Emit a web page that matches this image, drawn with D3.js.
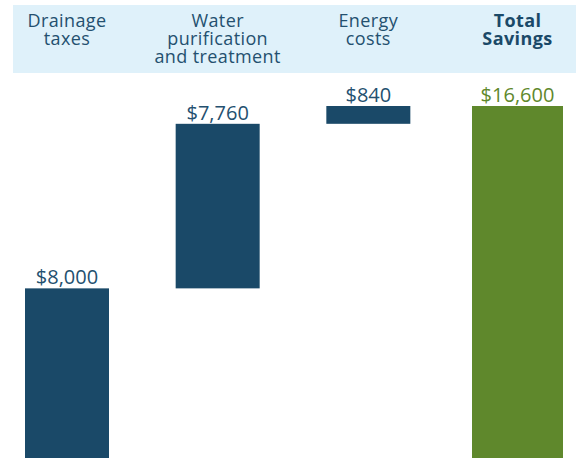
<!DOCTYPE html>
<html>
<head>
<meta charset="utf-8">
<script src="https://cdn.jsdelivr.net/npm/d3@7"></script>
<style>
  body { margin: 0; background: #fff; }
  svg { display: block; }
</style>
</head>
<body>
<div id="chart"></div>
<script>
// data
var categories = ['Drainage taxes', 'Water purification and treatment', 'Energy costs', 'Total Savings']
var headerLines = [['Drainage', 'taxes'], ['Water', 'purification', 'and treatment'], ['Energy', 'costs'], ['Total', 'Savings']]
var values = [8000, 7760, 840, 16600]
var isTotal = [false, false, false, true]
var valueLabels = ['$8,000', '$7,760', '$840', '$16,600']

var width = 576, height = 458

var svg = d3.select('#chart')
  .append('svg')
  .attr('width', width)
  .attr('height', height)

// header band
svg.append('rect')
  .attr('x', 13)
  .attr('y', 5)
  .attr('width', width - 13)
  .attr('height', 68)
  .attr('fill', '#dff1fa')

// build waterfall start/end
var running = 0
var bars = categories.map(function (c, i) {
  var d = { cat: c, value: values[i], total: isTotal[i], label: valueLabels[i], lines: headerLines[i] }
  if (d.total) {
    d.start = 0
    d.end = d.value
  } else {
    d.start = running
    d.end = running + d.value
    running = d.end
  }
  return d
})

// centre of each column
var x = d3.scalePoint()
  .domain(categories)
  .range([67, 519])

var y = d3.scaleLinear()
  .domain([0, 16600])
  .range([458, 106])

function barW (d) { return d.total ? 91 : 84 }
function cx (d) { return x(d.cat) + (d.total ? -1.5 : 0) }

// bars
svg.append('g')
  .selectAll('rect')
  .data(bars)
  .enter()
  .append('rect')
  .attr('x', function (d) { return cx(d) - barW(d) / 2 })
  .attr('y', function (d) { return y(d.end) })
  .attr('width', barW)
  .attr('height', function (d) { return y(d.start) - y(d.end) })
  .attr('fill', function (d) { return d.total ? '#5f882c' : '#1a4968' })

// value labels
svg.append('g')
  .selectAll('text')
  .data(bars)
  .enter()
  .append('text')
  .attr('x', cx)
  .attr('y', function (d) { return y(d.end) - 4 })
  .attr('text-anchor', 'middle')
  .style('font-family', 'Open Sans')
  .style('font-size', '20px')
  .attr('fill', function (d) { return d.total ? '#5f882c' : '#24506f' })
  .text(function (d) { return d.label })

// header labels
var hdr = svg.append('g')
  .selectAll('text')
  .data(bars)
  .enter()
  .append('text')
  .attr('text-anchor', 'middle')
  .style('font-family', 'Open Sans')
  .style('font-size', '18px')
  .style('letter-spacing', '0.4px')
  .style('font-weight', function (d) { return d.total ? 'bold' : 'normal' })
  .attr('fill', function (d) { return d.total ? '#1a4968' : '#24506f' })

hdr.selectAll('tspan')
  .data(function (d) { return d.lines.map(function (l) { return { l: l, d: d } }) })
  .enter()
  .append('tspan')
  .attr('x', function (t) { return cx(t.d) })
  .attr('y', function (t, i) { return 27 + i * 18 })
  .text(function (t) { return t.l })
</script>
</body>
</html>
